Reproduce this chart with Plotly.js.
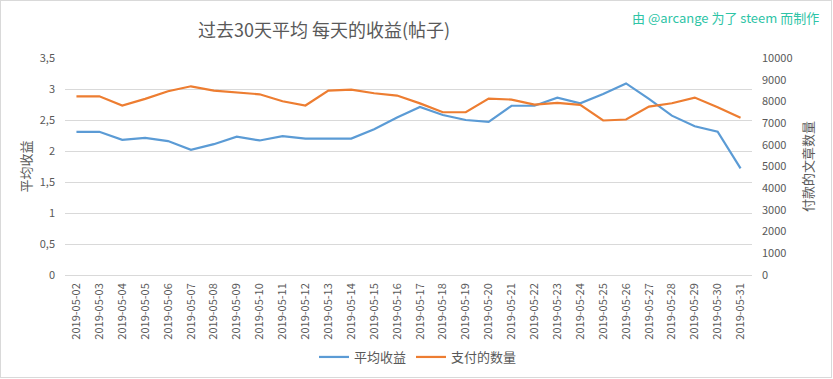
<!DOCTYPE html>
<html>
<head>
<meta charset="utf-8">
<script src="https://cdn.plot.ly/plotly-3.0.1.min.js"></script>
<style>
html,body{margin:0;padding:0;background:#fff;}
#wrap{position:relative;width:833px;height:379px;}
#chart{position:absolute;left:0;top:0;width:833px;height:379px;}
#frame{position:absolute;left:0;top:0;width:832px;height:378px;box-sizing:border-box;border:1px solid #d9d9d9;pointer-events:none;}
</style>
</head>
<body>
<div id="wrap"><div id="chart"></div><div id="frame"></div></div>
<script>
const dates = [
  "2019-05-02","2019-05-03","2019-05-04","2019-05-05","2019-05-06","2019-05-07",
  "2019-05-08","2019-05-09","2019-05-10","2019-05-11","2019-05-12","2019-05-13",
  "2019-05-14","2019-05-15","2019-05-16","2019-05-17","2019-05-18","2019-05-19",
  "2019-05-20","2019-05-21","2019-05-22","2019-05-23","2019-05-24","2019-05-25",
  "2019-05-26","2019-05-27","2019-05-28","2019-05-29","2019-05-30","2019-05-31"
];
const avgReward = [
  2.31, 2.31, 2.18, 2.21, 2.16, 2.02,
  2.11, 2.23, 2.17, 2.24, 2.20, 2.20,
  2.20, 2.35, 2.54, 2.71, 2.58, 2.50,
  2.47, 2.73, 2.73, 2.86, 2.77, 2.92,
  3.09, 2.84, 2.57, 2.40, 2.31, 1.72
];
const paidCount = [
  8236, 8236, 7810, 8117, 8466, 8696,
  8498, 8420, 8328, 8006, 7810, 8498,
  8544, 8374, 8268, 7910, 7500, 7500,
  8130, 8085, 7855, 7933, 7841, 7120,
  7166, 7763, 7915, 8176, 7731, 7244
];
const leftTicks = [0, 0.5, 1, 1.5, 2, 2.5, 3, 3.5];
const rightTicks = [0,1000,2000,3000,4000,5000,6000,7000,8000,9000,10000];

const FONT = "'Noto Sans CJK SC', 'Noto Sans', sans-serif";
const GRAY = "#595959";

const traces = [
  {x: dates, y: avgReward, name: "平均收益", type: "scatter", mode: "lines",
   line: {color: "#5B9BD5", width: 2.2}, yaxis: "y"},
  {x: dates, y: paidCount, name: "支付的数量", type: "scatter", mode: "lines",
   line: {color: "#ED7D31", width: 2.2}, yaxis: "y2"}
];

const layout = {
  width: 833, height: 379,
  margin: {l: 65, r: 81, t: 58, b: 104},
  paper_bgcolor: "#fff", plot_bgcolor: "#fff",
  separators: ",.",
  font: {family: FONT, color: GRAY, size: 11},
  showlegend: true,
  title: {
    text: "过去30天平均 每天的收益(帖子)",
    font: {family: FONT, size: 18, color: GRAY},
    x: 0.389, xref: "container", xanchor: "center",
    y: 1 - 31/379, yref: "container", yanchor: "middle"
  },
  xaxis: {
    type: "category",
    range: [-0.5, dates.length - 0.5],
    tickangle: -90,
    showgrid: false, zeroline: false, showline: false,
    ticks: "", ticklabelstandoff: 5,
    tickfont: {family: FONT, size: 11, color: GRAY},
    automargin: false
  },
  yaxis: {
    range: [0, 3.5],
    tickvals: leftTicks,
    showgrid: true, gridcolor: "#d9d9d9", gridwidth: 1,
    zeroline: true, zerolinecolor: "#d9d9d9", zerolinewidth: 1,
    showline: false, ticks: "", ticklabelstandoff: 9,
    tickfont: {family: FONT, size: 11, color: GRAY},
    title: {text: "平均收益", font: {family: FONT, size: 13, color: GRAY}, standoff: 5}
  },
  yaxis2: {
    range: [0, 10000],
    tickvals: rightTicks,
    tickformat: "d",
    overlaying: "y", side: "right",
    showgrid: false, zeroline: false, showline: false,
    ticks: "", ticklabelstandoff: 9,
    tickfont: {family: FONT, size: 11, color: GRAY},
    title: {text: "付款的文章数量", font: {family: FONT, size: 13, color: GRAY}, standoff: 12}
  },
  legend: {
    orientation: "h",
    xref: "container", x: 418 / 833, xanchor: "center",
    yref: "container", y: 1 - 357/379, yanchor: "middle",
    font: {family: FONT, size: 13, color: GRAY},
    itemwidth: 30
  },
  annotations: [{
    text: "由 @arcange 为了 steem 而制作",
    xref: "paper", yref: "paper",
    x: (821 - 65) / 687, xanchor: "right",
    y: (275 - 18) / 217, yanchor: "middle",
    showarrow: false,
    font: {family: FONT, size: 13, color: "#2EC4A6"}
  }]
};

Plotly.newPlot("chart", traces, layout, {displayModeBar: false, staticPlot: true});
</script>
</body>
</html>
